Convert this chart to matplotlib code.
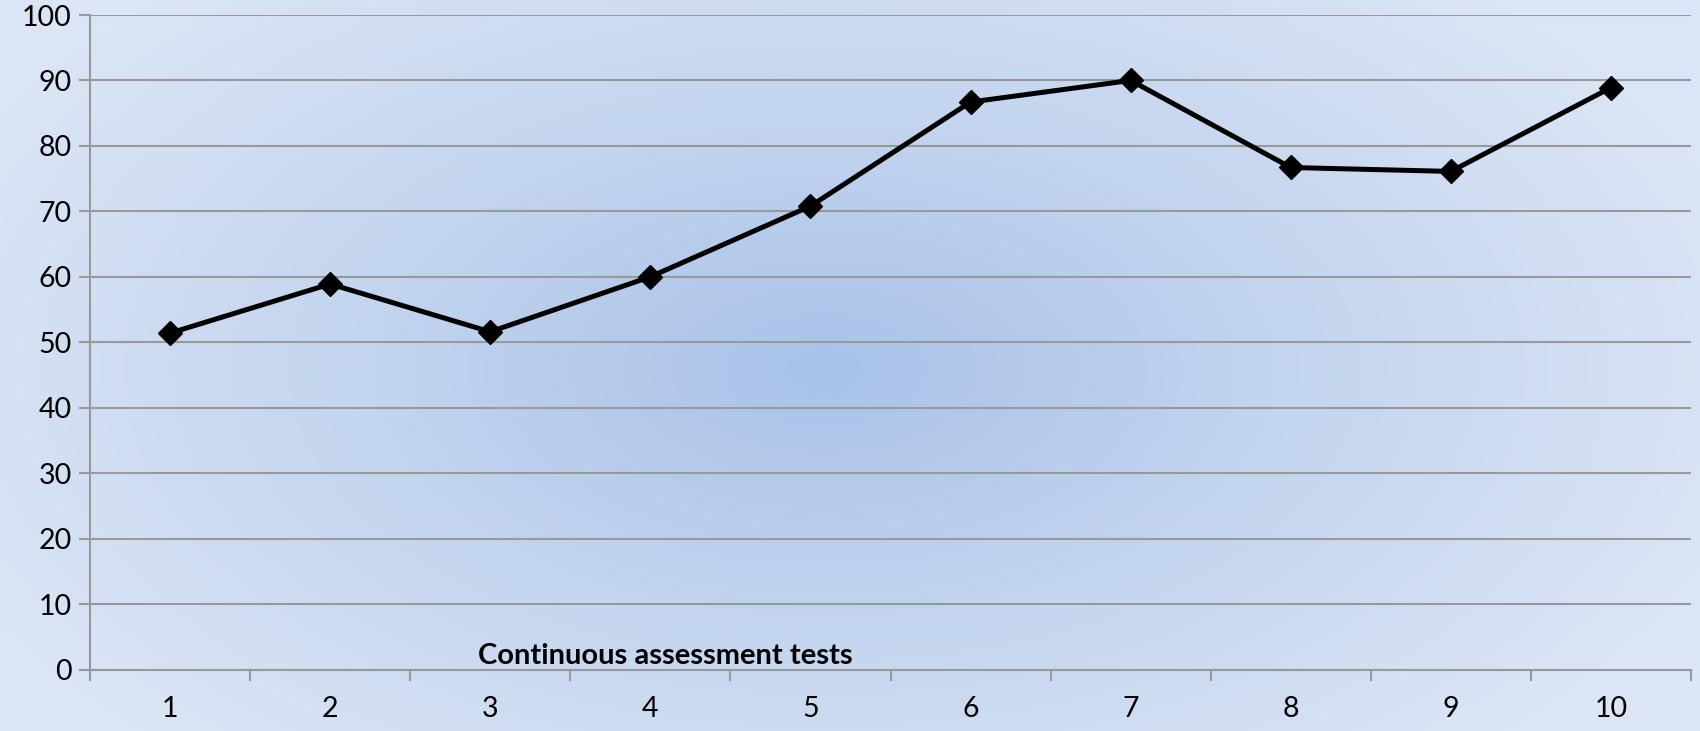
import numpy as np
import matplotlib
matplotlib.use("Agg")
import matplotlib.pyplot as plt
from matplotlib.colors import LinearSegmentedColormap

categories = ["1", "2", "3", "4", "5", "6", "7", "8", "9", "10"]
scores = [51.4, 58.9, 51.6, 60.0, 70.8, 86.7, 90.0, 76.7, 76.1, 88.9]
yticks = [0, 10, 20, 30, 40, 50, 60, 70, 80, 90, 100]
title = "Continuous assessment tests"

plt.rcParams['font.family'] = ['Lato', 'DejaVu Sans']

W, H = 1700, 731
fig = plt.figure(figsize=(W / 100, H / 100), dpi=100)

# radial gradient background
bg = fig.add_axes([0, 0, 1, 1], zorder=0)
yy, xx = np.mgrid[0:H, 0:W]
cx, cy = 824, 369
d = np.sqrt(((xx - cx) / 950.0) ** 2 + ((yy - cy) / 520.0) ** 2)
d = np.clip(d, 0, 1)
cmap = LinearSegmentedColormap.from_list("bg", ["#a8c2e8", "#c4d5ef", "#dbe5f5"])
bg.imshow(d, cmap=cmap, aspect="auto", extent=[0, 1, 0, 1], origin="upper", vmin=0, vmax=1)
bg.set_axis_off()

left, right = 90 / W, 1691 / W
bottom, top = 1 - 669.5 / H, 1 - 15 / H
ax = fig.add_axes([left, bottom, right - left, top - bottom], zorder=1)
ax.patch.set_alpha(0)

x = np.arange(len(categories))
ax.plot(x, scores, color="black", lw=3.6, marker="D", markersize=12.5,
        markerfacecolor="black", markeredgecolor="black", zorder=3, clip_on=False)

ax.set_xlim(-0.5, len(categories) - 0.5)
ax.set_ylim(0, 100)
ax.set_yticks(yticks)
ax.set_yticklabels([str(v) for v in yticks], fontsize=20.5)
ax.yaxis.grid(True, color="#999999", lw=1.5)
ax.set_axisbelow(True)

ax.set_xticks(x)
ax.set_xticklabels(categories, fontsize=20.5)
ax.set_xticks(np.arange(-0.5, len(categories)), minor=True)
ax.tick_params(axis="x", which="major", length=0, pad=19)
ax.tick_params(axis="x", which="minor", length=8, width=1.5, color="#999999", direction="out")
ax.tick_params(axis="y", length=8, width=1.5, color="#999999", pad=5)

for s in ["top", "right"]:
    ax.spines[s].set_visible(False)
for s in ["left", "bottom"]:
    ax.spines[s].set_color("#999999")
    ax.spines[s].set_linewidth(1.5)

ax.text(665 / W, 1 - 656 / H, title, transform=fig.transFigure, ha="center", va="center",
        fontsize=21, fontweight="bold", zorder=5)

fig.savefig("out.png", dpi=100)
